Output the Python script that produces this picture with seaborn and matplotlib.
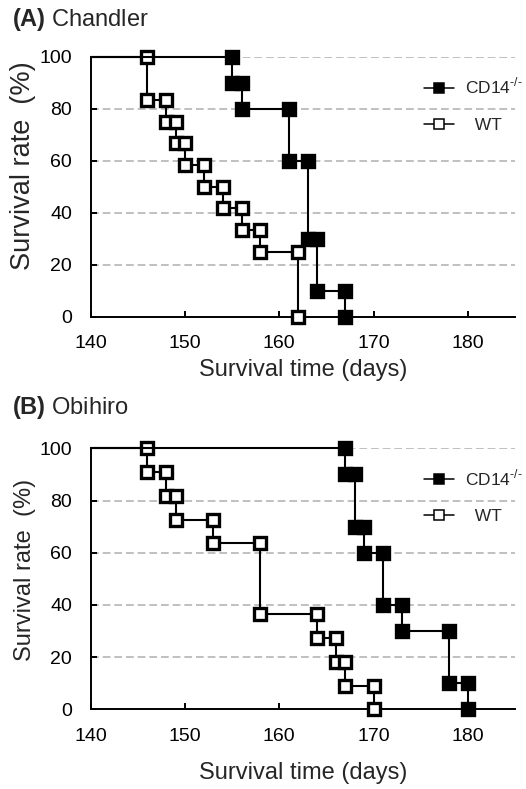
import matplotlib.pyplot as plt
import seaborn as sns
from matplotlib.lines import Line2D

# (A) Chandler: day of each death event and survival (%) right after it
a_ko_days = [155, 156, 161, 163, 164, 167]
a_ko_surv = [90, 80, 60, 30, 10, 0]
a_wt_days = [146, 148, 149, 150, 152, 154, 156, 158, 162]
a_wt_surv = [83.3, 75, 66.7, 58.3, 50, 41.7, 33.3, 25, 0]

# (B) Obihiro
b_ko_days = [167, 168, 169, 171, 173, 178, 180]
b_ko_surv = [90, 70, 60, 40, 30, 10, 0]
b_wt_days = [146, 148, 149, 153, 158, 164, 166, 167, 170]
b_wt_surv = [90.9, 81.8, 72.7, 63.6, 36.4, 27.3, 18.2, 9.1, 0]

x_ticks = [140, 150, 160, 170, 180]
y_ticks = [0, 20, 40, 60, 80, 100]

sns.set_style("ticks")
plt.rcParams["font.family"] = ["Liberation Sans", "DejaVu Sans"]
plt.rcParams["mathtext.fontset"] = "custom"
plt.rcParams["mathtext.rm"] = "Liberation Sans"
plt.rcParams["mathtext.bf"] = "Liberation Sans:bold"


def km_path(days, surv, start=140):
    xs, ys = [start], [100]
    prev = 100
    for d, s in zip(days, surv):
        xs += [d, d]
        ys += [prev, s]
        prev = s
    return xs, ys


def draw_curve(ax, days, surv, face):
    xs, ys = km_path(days, surv)
    sns.lineplot(x=xs, y=ys, ax=ax, sort=False, estimator=None, color="black",
                 lw=1.5, marker="s", ms=8.9, mfc=face, mec="black", mew=2.4,
                 markevery=list(range(1, len(xs))), clip_on=False, zorder=3)


def style_axes(ax, xlabelpad, ylab_size, ylab_y):
    ax.set_xlim(140, 185)
    ax.set_ylim(0, 100)
    ax.set_xticks(x_ticks)
    ax.set_yticks(y_ticks)
    for y in y_ticks[1:]:
        ax.axhline(y, color="#c0c0c0", lw=1.4, ls=(0, (4, 2)), zorder=0)
    sns.despine(ax=ax)
    for s in ["left", "bottom"]:
        ax.spines[s].set_linewidth(1.4)
        ax.spines[s].set_color("black")
    ax.tick_params(direction="in", length=4.3, width=1.4, labelsize=14,
                   pad=13.5, colors="black")
    ax.set_xlabel("Survival time (days)", fontsize=17, labelpad=xlabelpad)
    ax.set_ylabel("Survival rate  (%)", fontsize=ylab_size)
    ax.yaxis.set_label_coords(-0.13, ylab_y)

    handles = [
        Line2D([], [], color="black", lw=1.1, marker="s", ms=7.5, mfc="black",
               mec="black", mew=1.1),
        Line2D([], [], color="black", lw=1.1, marker="s", ms=7.5, mfc="white",
               mec="black", mew=1.1),
    ]
    ax.legend(handles, [r"CD14$^{\text{-/-}}$", "  WT"],
              loc="upper left", bbox_to_anchor=(0.785, 0.925), frameon=False,
              handlelength=1.75, handletextpad=0.6, labelspacing=1.2,
              borderpad=0, borderaxespad=0, fontsize=12.5)


fig = plt.figure(figsize=(5.26, 7.89), dpi=100)

ax_a = fig.add_axes([0.1724, 0.5986, 0.8067, 0.3295])
draw_curve(ax_a, a_wt_days, a_wt_surv, "white")
draw_curve(ax_a, a_ko_days, a_ko_surv, "black")
style_axes(ax_a, 5, 19.5, 0.58)

ax_b = fig.add_axes([0.1724, 0.1010, 0.8067, 0.3308])
draw_curve(ax_b, b_wt_days, b_wt_surv, "white")
draw_curve(ax_b, b_ko_days, b_ko_surv, "black")
style_axes(ax_b, 12, 17, 0.534)

fig.text(12 / 526, 1 - 26 / 789, r"$\mathbf{(A)}$ Chandler", fontsize=17,
         va="baseline", ha="left")
fig.text(12 / 526, 1 - 414 / 789, r"$\mathbf{(B)}$ Obihiro", fontsize=17,
         va="baseline", ha="left")

fig.savefig("out.png", dpi=100)
